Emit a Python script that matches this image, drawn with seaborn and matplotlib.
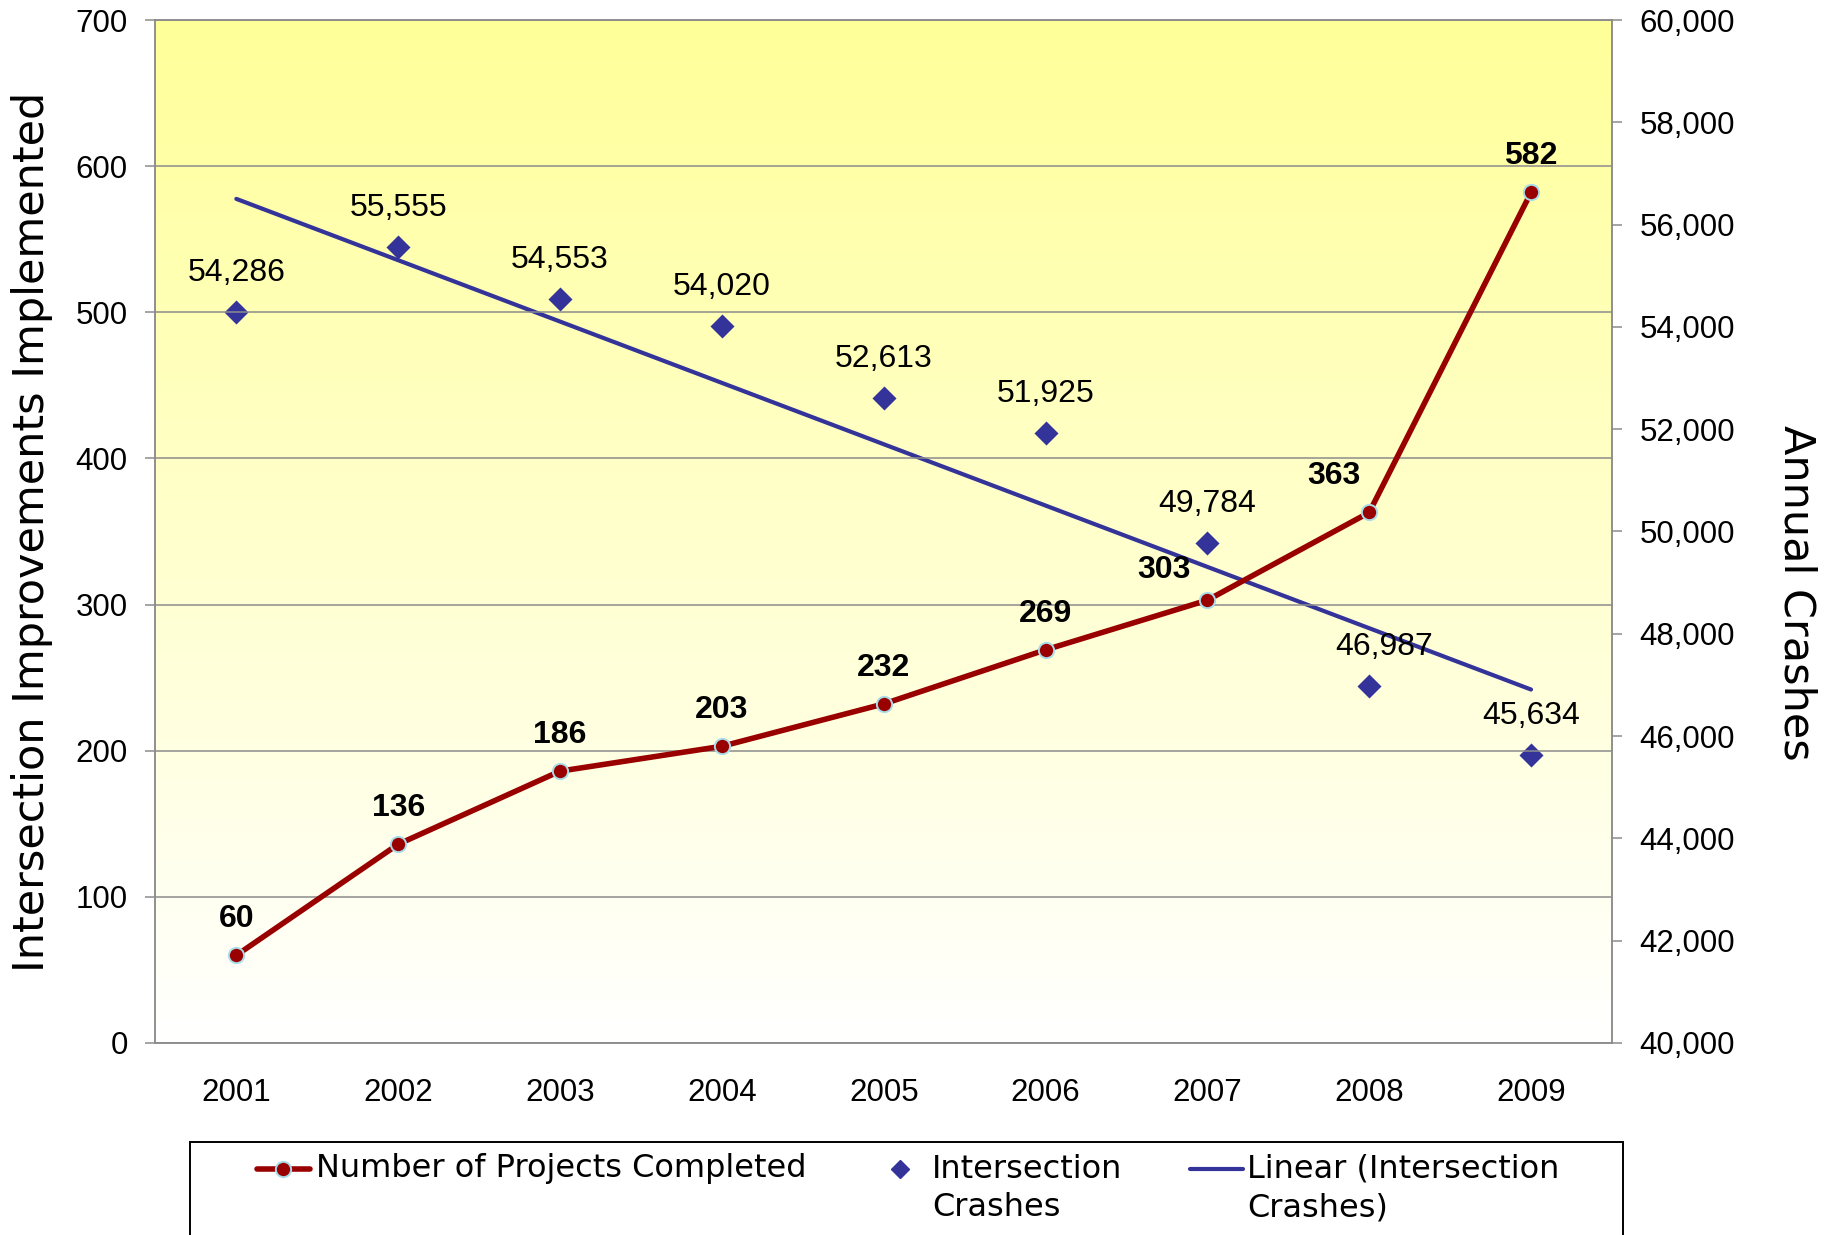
import numpy as np
import matplotlib.pyplot as plt
import matplotlib.colors as mcolors
from matplotlib.patches import Rectangle
from matplotlib.lines import Line2D
import seaborn as sns

years = ['2001', '2002', '2003', '2004', '2005', '2006', '2007', '2008', '2009']
projects = [60, 136, 186, 203, 232, 269, 303, 363, 582]
crashes = [54286, 55555, 54553, 54020, 52613, 51925, 49784, 46987, 45634]

# label offsets in pixels (dx, dy)
proj_off = [(0, 36), (0, 36), (0, 36), (0, 36), (0, 36), (0, 36), (-43, 30), (-35, 36), (0, 36)]
crash_off = [(0, 39), (0, 39), (0, 39), (0, 39), (0, 39), (0, 39), (0, 39), (15, 39), (0, 39)]

sns.set_style('white')
plt.rcParams['font.family'] = ['Liberation Sans', 'DejaVu Sans']
plt.rcParams['text.color'] = 'black'
plt.rcParams['axes.labelcolor'] = 'black'

red = '#990000'
navy = '#333399'
grey = '#8c8c8c'
W, H = 1833, 1235

x = np.arange(len(years))

fig, ax = plt.subplots(figsize=(W / 100, H / 100), dpi=100)
fig.subplots_adjust(left=0.0848, right=0.8794, top=0.9838, bottom=0.1555)
ax2 = ax.twinx()

# left axis on top so the red line sits over the trend line
ax.set_zorder(2)
ax2.set_zorder(1)
ax.patch.set_visible(False)

# yellow-to-white background
grad = np.linspace(1, 0, 256).reshape(-1, 1)
cmap = mcolors.LinearSegmentedColormap.from_list('bg', ['#ffffff', '#ffff99'])
ax2.imshow(grad, cmap=cmap, aspect='auto', origin='upper',
           extent=(-0.5, 8.5, 40000, 60000), zorder=0)

# crashes and linear trend
sns.scatterplot(x=x, y=crashes, ax=ax2, marker='D', s=150, color=navy,
                edgecolor=navy, linewidth=0, zorder=3, legend=False)
sns.regplot(x=x, y=crashes, ax=ax2, scatter=False, ci=None, truncate=True,
            line_kws={'color': navy, 'lw': 3.0, 'zorder': 2})

for i, v in enumerate(crashes):
    ax2.annotate(f'{v:,}', (x[i], v), xytext=crash_off[i], textcoords='offset pixels',
                 ha='center', va='center', fontsize=23, color='black')

# projects completed
sns.lineplot(x=x, y=projects, ax=ax, color=red, lw=4.0, marker='o', markersize=11,
             markeredgecolor='#a8dce8', markeredgewidth=1.4, zorder=4, legend=False)

for i, v in enumerate(projects):
    ax.annotate(str(v), (x[i], v), xytext=proj_off[i], textcoords='offset pixels',
                ha='center', va='center', fontsize=23, fontweight='bold', color='black')

# axes
ax.set_xlim(-0.5, 8.5)
ax.set_ylim(0, 700)
ax2.set_ylim(40000, 60000)
ax.set_yticks(range(0, 701, 100))
ax2.set_yticks(range(40000, 60001, 2000))
ax2.set_yticklabels([f'{t:,}' for t in range(40000, 60001, 2000)])
ax.set_xticks(x)
ax.set_xticklabels(years)
ax.set_xticks(np.arange(-0.5, 9, 1), minor=True)

ax.yaxis.grid(True, color=grey, lw=1.1)
ax.xaxis.grid(False)
ax2.grid(False)

ax.tick_params(axis='x', which='major', length=0, pad=25, labelsize=22.5, labelcolor='black')
ax.tick_params(axis='x', which='minor', length=7, width=1.1, color=grey, direction='out')
ax.tick_params(axis='y', length=7, width=1.1, color=grey, direction='out', pad=13,
               labelsize=22.5, labelcolor='black', left=True)
ax2.tick_params(axis='y', length=7, width=1.1, color=grey, direction='out', pad=13,
                labelsize=22.5, labelcolor='black', right=True)

for a in (ax, ax2):
    for sp in a.spines.values():
        sp.set_color(grey)
        sp.set_linewidth(1.1)

ax.set_xlabel('')
ax.set_ylabel('Intersection Improvements Implemented', family='DejaVu Sans', fontsize=31,
              va='center', ha='center')
ax.yaxis.set_label_coords(-0.085, 0.5)
ax2.set_ylabel('Annual Crashes', family='DejaVu Sans', fontsize=31, rotation=270,
               va='center', ha='center')
ax2.yaxis.label.set_rotation_mode('default')
ax2.yaxis.set_label_coords(1.127, 0.44)

# legend, drawn by hand so the markers sit on the first text line
y1 = 1 - 1169 / H
y2 = 1 - 1208 / H
leg_font = dict(family='DejaVu Sans', fontsize=23, va='center', ha='left')

fig.add_artist(Line2D([257 / W, 283.5 / W, 310 / W], [y1, y1, y1], color=red, lw=4.0,
                      marker='o', markersize=11, markevery=[1],
                      markeredgecolor='#a8dce8', markeredgewidth=1.4))
fig.text(316 / W, y1, 'Number of Projects Completed', **leg_font)

fig.add_artist(Line2D([900 / W], [y1], color=navy, lw=0, marker='D', markersize=9))
fig.text(932 / W, y1, 'Intersection', **leg_font)
fig.text(932 / W, y2, 'Crashes', **leg_font)

fig.add_artist(Line2D([1190 / W, 1243 / W], [y1, y1], color=navy, lw=3.0))
fig.text(1247 / W, y1, 'Linear (Intersection', **leg_font)
fig.text(1247 / W, y2, 'Crashes)', **leg_font)

fig.patches.append(Rectangle((190 / W, -0.01), (1623 - 190) / W, 0.0853,
                             transform=fig.transFigure, fill=False, ec='black', lw=1.4))

fig.savefig('out.png', dpi=100)
